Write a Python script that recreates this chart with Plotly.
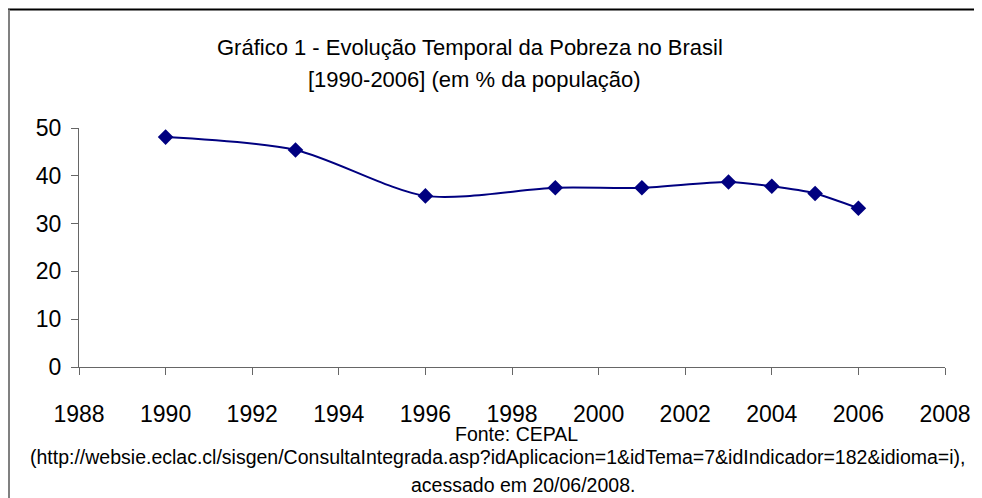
import plotly.graph_objects as go

anos = [1990, 1993, 1996, 1999, 2001, 2003, 2004, 2005, 2006]
pobreza = [48.1, 45.4, 35.8, 37.5, 37.5, 38.7, 37.8, 36.3, 33.2]

x_ticks = list(range(1988, 2009, 2))
y_ticks = [0, 10, 20, 30, 40, 50]

titulo_1 = 'Gráfico 1 - Evolução Temporal da Pobreza no Brasil'
titulo_2 = '[1990-2006] (em % da população)'
fonte_1 = 'Fonte: CEPAL'
fonte_2 = '(http://websie.eclac.cl/sisgen/ConsultaIntegrada.asp?idAplicacion=1&idTema=7&idIndicador=182&idioma=i),'
fonte_3 = 'acessado em 20/06/2008.'

# a página tem 8px de margem no body, então a figura começa em (8, 8)
OFF = 8
W, H = 982, 498
PL, PR, PT, PB = 79, 945, 128, 367  # área do gráfico em pixels da janela
PW, PH = PR - PL, PB - PT

def px_x(px):
    return (px - PL) / PW

def px_y(py):
    return (PB - py) / PH

fig = go.Figure()

fig.add_trace(go.Scatter(
    x=anos,
    y=pobreza,
    mode='lines+markers',
    line=dict(color='#000080', width=2, shape='spline', smoothing=0.8),
    marker=dict(symbol='diamond', size=12, color='#000080'),
    showlegend=False,
))

font = 'Liberation Sans, Arial, sans-serif'

fig.update_layout(
    width=W - OFF,
    height=H - OFF,
    margin=dict(l=PL - OFF, r=W - PR, t=PT - OFF, b=H - PB),
    paper_bgcolor='white',
    plot_bgcolor='white',
    font=dict(family=font, color='black'),
    showlegend=False,
)

fig.update_xaxes(
    range=[1988, 2008],
    tickvals=x_ticks,
    ticks='outside',
    ticklen=7,
    tickcolor='#666666',
    showline=True,
    linecolor='#666666',
    linewidth=1,
    showgrid=False,
    zeroline=False,
    tickfont=dict(size=23, family=font, color='black'),
    ticklabelstandoff=19,
)

fig.update_yaxes(
    range=[0, 50],
    tickvals=y_ticks,
    ticks='outside',
    ticklen=7,
    tickcolor='#666666',
    showline=True,
    linecolor='#666666',
    linewidth=1,
    showgrid=False,
    zeroline=False,
    tickfont=dict(size=23, family=font, color='black'),
    ticklabelstandoff=5,
)

# moldura do gráfico (só topo e lado esquerdo aparecem)
fig.add_shape(type='line', xref='paper', yref='paper',
              x0=px_x(8), x1=px_x(990), y0=px_y(9.5), y1=px_y(9.5),
              line=dict(color='black', width=2))
fig.add_shape(type='line', xref='paper', yref='paper',
              x0=px_x(9), x1=px_x(9), y0=px_y(9.5), y1=px_y(505),
              line=dict(color='#808080', width=2))

textos = [
    (titulo_1, 470, 47, 22),
    (titulo_2, 474, 80, 22),
    (fonte_1, 516, 434, 19.5),
    (fonte_2, 497, 457, 19.5),
    (fonte_3, 523, 485, 19.5),
]
for txt, cx, cy, size in textos:
    fig.add_annotation(
        text=txt, xref='paper', yref='paper',
        x=px_x(cx), y=px_y(cy), xanchor='center', yanchor='middle',
        showarrow=False, font=dict(size=size, family=font, color='black'),
    )

fig.write_html('out.html')
